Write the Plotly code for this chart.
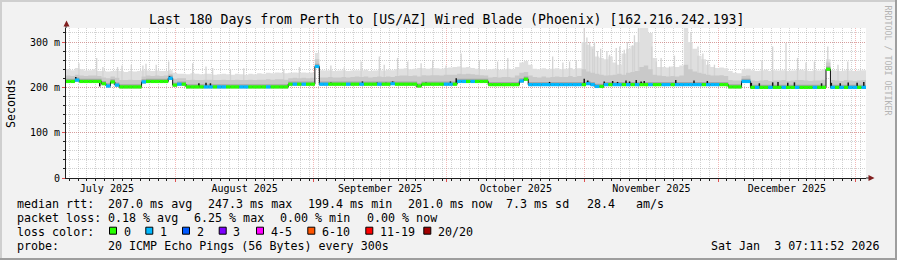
import plotly.graph_objects as go
import pandas as pd

# ---------------- data ----------------
START = "2025-07-07 07:11:52"
END = "2026-01-03 07:11:52"

# daily median rtt (ms)
median = [
    213, 213, 216, 213, 213, 213, 213, 213, 208, 203,
    212, 205, 201, 201, 201, 201, 201, 212, 213, 213,
    213, 213, 213, 220, 205, 207, 207, 201, 201, 201,
    201, 201, 201, 201, 201, 201, 201, 201, 201, 201,
    201, 201, 201, 201, 201, 201, 201, 201, 201, 201,
    207, 207, 207, 207, 207, 207, 246, 207, 207, 207,
    207, 207, 207, 207, 207, 207, 207, 207, 207, 207,
    207, 207, 207, 208, 207, 207, 207, 207, 207, 203,
    207, 207, 207, 207, 207, 207, 207, 207, 213, 213,
    213, 213, 213, 213, 213, 206, 206, 206, 206, 206,
    206, 206, 214, 218, 206, 206, 206, 206, 206, 206,
    206, 206, 206, 206, 206, 206, 206, 208, 206, 202,
    202, 206, 206, 206, 206, 206, 206, 206, 206, 206,
    206, 206, 206, 206, 206, 206, 206, 206, 206, 206,
    206, 206, 206, 206, 206, 206, 206, 206, 206, 201,
    201, 201, 213, 213, 200, 200, 200, 200, 200, 200,
    200, 200, 200, 200, 200, 200, 200, 200, 200, 200,
    200, 240, 200, 200, 200, 200, 200, 200, 200, 200,
]

# daily packet loss (pings lost of 20)
loss = [
    0, 0, 1, 0, 0, 0, 0, 0, 0, 1,
    0, 1, 0, 0, 0, 0, 0, 1, 0, 0,
    0, 0, 0, 1, 0, 1, 0, 0, 0, 0,
    0, 1, 1, 0, 1, 1, 0, 0, 0, 1,
    1, 0, 0, 0, 0, 1, 0, 0, 0, 0,
    0, 1, 0, 1, 0, 0, 1, 1, 1, 0,
    0, 0, 0, 1, 0, 0, 1, 0, 0, 0,
    1, 0, 0, 1, 0, 0, 0, 0, 0, 0,
    0, 0, 0, 0, 0, 1, 1, 0, 1, 1,
    0, 1, 0, 0, 0, 0, 0, 0, 0, 0,
    0, 0, 1, 0, 1, 1, 1, 1, 1, 1,
    1, 1, 1, 1, 1, 1, 0, 1, 1, 1,
    0, 1, 0, 1, 1, 0, 1, 0, 1, 0,
    0, 1, 0, 0, 1, 1, 0, 1, 1, 1,
    1, 1, 1, 0, 1, 1, 1, 0, 0, 0,
    0, 0, 1, 1, 0, 1, 0, 0, 1, 0,
    0, 1, 0, 0, 1, 0, 0, 0, 1, 0,
    0, 0, 1, 0, 1, 0, 1, 1, 0, 1,
]

# daily upper edge of the denser (mid grey) smoke (ms)
smoke_mid = [
    226, 225, 228, 226, 225, 226, 226, 225, 222, 220,
    224, 221, 216, 216, 217, 216, 216, 224, 226, 225,
    226, 225, 226, 230, 219, 220, 220, 216, 217, 216,
    216, 217, 217, 216, 216, 217, 216, 216, 217, 216,
    216, 217, 216, 217, 217, 218, 217, 218, 218, 217,
    220, 221, 220, 221, 220, 221, 262, 222, 222, 223,
    222, 222, 223, 222, 223, 224, 223, 224, 222, 223,
    224, 223, 224, 223, 225, 226, 226, 225, 226, 224,
    227, 226, 227, 227, 226, 228, 228, 228, 230, 229,
    230, 229, 228, 227, 226, 222, 223, 222, 223, 223,
    222, 226, 232, 234, 226, 223, 222, 224, 222, 223,
    224, 223, 223, 225, 223, 225, 240, 235, 232, 230,
    228, 226, 227, 228, 230, 228, 232, 234, 236, 245,
    248, 240, 228, 226, 225, 224, 225, 224, 226, 250,
    240, 235, 232, 230, 228, 226, 226, 227, 225, 216,
    215, 215, 225, 226, 215, 214, 215, 216, 214, 215,
    215, 216, 214, 215, 216, 216, 215, 214, 215, 215,
    217, 255, 216, 215, 214, 216, 215, 214, 215, 216,
]

# daily upper edge of the light smoke (ms)
smoke_top = [
    240, 238, 243, 240, 237, 238, 240, 236, 236, 235,
    236, 237, 236, 234, 236, 235, 236, 238, 237, 236,
    237, 236, 236, 238, 232, 230, 230, 229, 231, 230,
    229, 230, 230, 228, 229, 230, 229, 228, 230, 229,
    228, 230, 229, 231, 230, 232, 231, 233, 232, 231,
    232, 233, 232, 233, 232, 233, 276, 238, 237, 238,
    236, 237, 238, 236, 237, 238, 237, 239, 236, 237,
    238, 237, 239, 238, 240, 241, 242, 240, 241, 243,
    242, 241, 243, 242, 241, 243, 244, 245, 246, 244,
    245, 243, 241, 240, 239, 240, 241, 239, 240, 241,
    240, 245, 255, 258, 250, 241, 240, 242, 240, 241,
    242, 240, 241, 243, 240, 242, 300, 294, 290, 268,
    265, 262, 268, 255, 250, 275, 285, 292, 300, 340,
    340, 320, 265, 245, 245, 244, 246, 245, 248, 340,
    300, 285, 270, 262, 250, 245, 243, 244, 242, 236,
    232, 231, 240, 241, 238, 236, 237, 239, 236, 238,
    237, 238, 236, 237, 238, 239, 237, 236, 238, 237,
    240, 262, 238, 237, 236, 238, 237, 236, 237, 238,
]

# isolated smoke spikes: position (days from start) and top (ms)
spike_days = [
    2.9, 6.9, 8.3, 11.6, 12.6, 14.7, 17.3, 18.0, 20.3, 23.1,
    28.5, 31.5, 33.0, 37.0, 40.0, 49.0, 52.5, 59.6, 62.6, 66.4,
    70.5, 71.6, 74.6, 76.9, 79.9, 82.5, 85.5, 88.9, 93.0, 97.1,
    99.4, 109.5, 111.8, 113.3, 114.8, 116.6, 117.8, 118.5, 119.6, 122.3,
    123.8, 125.6, 127.5, 132.8, 135.8, 144.4, 145.9, 156.6, 159.0, 162.0,
    164.6, 166.5, 168.4, 171.4, 173.7, 175.9, 117.2, 118.9, 120.3, 121.7,
    124.6, 126.3, 127.9, 128.8, 131.8, 133.9, 136.9, 140.6, 142.2, 143.3,
]
spike_tops = [
    253, 265, 245, 245, 248, 250, 248, 252, 250, 257,
    253, 246, 243, 240, 242, 240, 245, 248, 244, 257,
    268, 250, 265, 257, 253, 260, 248, 275, 260, 257,
    265, 268, 255, 257, 260, 340, 300, 285, 280, 272,
    287, 283, 293, 257, 246, 260, 250, 260, 290, 298,
    265, 255, 257, 290, 250, 257, 310, 300, 285, 280,
    290, 300, 315, 330, 290, 265, 270, 320, 290, 275,
]

# short median excursions (black ticks): position (days) and value (ms)
tick_days = [
    2.2, 7.6, 23.3, 29.9, 31.5, 32.5, 59.6, 66.7, 70.0, 72.0,
    73.5, 79.0, 81.0, 86.5, 87.8, 108.8, 116.6, 117.4, 121.1, 123.0,
    124.1, 126.0, 126.8, 128.3, 129.4, 130.1, 137.2, 141.3, 144.3, 154.2,
    156.0, 159.0, 160.2, 162.4, 163.9, 170.0, 172.2, 174.2, 176.0, 178.0,
    179.5,
]
tick_vals = [
    223, 202, 225, 209, 210, 209, 211, 213, 211, 210,
    213, 201, 211, 213, 220, 212, 219, 215, 213, 214,
    212, 215, 213, 216, 213, 214, 216, 215, 214, 210,
    209, 211, 212, 210, 211, 209, 210, 209, 211, 210,
    212,
]

loss_labels = ["0", "1", "2", "3", "4-5", "6-10", "11-19", "20/20"]
loss_colors = ["#26ff00", "#00b8ff", "#0059ff", "#7e00ff", "#ff00ff", "#ff5500", "#ff0000", "#a10000"]

title = "Last 180 Days from Perth to [US/AZ] Wired Blade (Phoenix) [162.216.242.193]"
row_rtt = ["median rtt:", "207.0 ms avg", "247.3 ms max", "199.4 ms min", "201.0 ms now", "7.3 ms sd", "28.4", "am/s"]
row_loss = ["packet loss:", "0.18 % avg", "6.25 % max", "0.00 % min", "0.00 % now"]
probe_text = ["probe:", "20 ICMP Echo Pings (56 Bytes) every 300s"]
stamp = "Sat Jan\u00a0\u00a03 07:11:52 2026"

assert len(median) == len(loss) == len(smoke_mid) == len(smoke_top) == 180
assert len(spike_days) == len(spike_tops)
assert len(tick_days) == len(tick_vals)

# ---------------- geometry / style ----------------
W, H = 897, 260
L, T, PW, PH = 66, 28, 800, 150
MONO = "DejaVu Sans Mono"
BG = "#f2f2f2"


def px(x):
    return (x - L) / PW


def py(y):
    return (T + PH - y) / PH


t0 = pd.Timestamp(START)
edges = [t0 + pd.Timedelta(days=i) for i in range(len(median) + 1)]


def at(d):
    return t0 + pd.Timedelta(days=d)


def step(v):
    return list(v) + [v[-1]]


fig = go.Figure()
common = dict(mode="lines", hoverinfo="skip", showlegend=False)

lo = [m - 3 for m in median]
dark = [m + 6 for m in median]

# light smoke envelope
fig.add_trace(go.Scatter(x=edges, y=step(lo), line=dict(width=0, shape="hv"), **common))
fig.add_trace(go.Scatter(x=edges, y=step(smoke_top), line=dict(width=0, shape="hv"),
                         fill="tonexty", fillcolor="#dfdfdf", **common))

# smoke spikes
sx, sy = [], []
for d, t in zip(spike_days, spike_tops):
    sx += [at(d), at(d), None]
    sy += [median[int(d)], t, None]
fig.add_trace(go.Scatter(x=sx, y=sy, line=dict(width=1.3, color="#d3d3d3"), **common))

# denser smoke bands
for upper, colr in [(smoke_mid, "#c9c9c9"), (dark, "#a6a6a6")]:
    fig.add_trace(go.Scatter(x=edges, y=step(lo), line=dict(width=0, shape="hv"), **common))
    fig.add_trace(go.Scatter(x=edges, y=step(upper), line=dict(width=0, shape="hv"),
                             fill="tonexty", fillcolor=colr, **common))

# median step line (black)
fig.add_trace(go.Scatter(x=edges, y=step(median), line=dict(width=1, color="#101010", shape="hv"), **common))

# black excursions
bx, by = [], []
for d, v in zip(tick_days, tick_vals):
    bx += [at(d), at(d), None]
    by += [median[int(d)], v, None]
fig.add_trace(go.Scatter(x=bx, y=by, line=dict(width=1.5, color="#151515"), **common))

# loss coloured median band
for lv in sorted(set(loss)):
    cx, cy = [], []
    for i, (m, l) in enumerate(zip(median, loss)):
        if l == lv:
            cx += [edges[i], edges[i + 1], None]
            cy += [m, m, None]
    fig.add_trace(go.Scatter(x=cx, y=cy, line=dict(width=3.2, color=loss_colors[lv]), **common))

# ---------------- annotations ----------------
ann = []


def text(x, y, s, size=11.66, anchor="left", color="#000000", angle=0):
    ann.append(dict(x=px(x), y=py(y), xref="paper", yref="paper", text=s, showarrow=False,
                    xanchor=anchor, yanchor="middle", textangle=angle, borderpad=0,
                    font=dict(family=MONO, size=size, color=color)))


text(446.7, 19.4, title, size=13.2, anchor="center")
text(11, 103, "Seconds", angle=-90, anchor="center")
text(887.5, 60, "RRDTOOL / TOBI OETIKER", size=8.3, anchor="center", color="#b4b4b4", angle=90)

for s, x in zip(row_rtt, [16, 107.3, 207.3, 306.7, 406.7, 505, 586, 635]):
    text(x, 204.2, s)
for s, x in zip(row_loss, [16, 107.3, 193.3, 279.3, 365.7]):
    text(x, 218.2, s)
text(16, 232.2, "loss color:")
box_x = [109, 145.3, 182, 218.7, 256, 307.3, 365.3, 423.3]
shapes = []
for bxp, lab, colr in zip(box_x, loss_labels, loss_colors):
    shapes.append(dict(type="rect", xref="paper", yref="paper", x0=px(bxp + 0.5), x1=px(bxp + 7.5),
                       y0=py(227.2), y1=py(234.2), fillcolor=colr, line=dict(color="#000000", width=1)))
    text(bxp + 13.7, 232.2, lab)
text(16, 246.2, probe_text[0])
text(107.3, 246.2, probe_text[1])
text(880, 246.2, stamp, anchor="right")

# frame (3d shading)
for x0, x1, y0, y1, c in [(0, 897, 0, 2, "#cfcfcf"), (0, 2, 0, 260, "#cfcfcf"),
                          (0, 897, 258, 260, "#9e9e9e"), (895, 897, 0, 260, "#9e9e9e")]:
    shapes.append(dict(type="rect", xref="paper", yref="paper", x0=px(x0), x1=px(x1),
                       y0=py(y1), y1=py(y0), fillcolor=c, line=dict(width=0), layer="above"))

# axis extensions + arrows
AX = "#1f1f1f"
AR = "#801f1f"
shapes.append(dict(type="line", xref="paper", yref="paper", x0=0, x1=0, y0=1, y1=py(25.5),
                    line=dict(color=AX, width=1)))
shapes.append(dict(type="line", xref="paper", yref="paper", x0=1, x1=px(869.5), y0=0, y1=0,
                    line=dict(color=AX, width=1)))
shapes.append(dict(type="path", xref="paper", yref="paper",
                   path=f"M {px(63.5)},{py(26.5)} L {px(69.5)},{py(26.5)} L {px(66.5)},{py(20.5)} Z",
                   fillcolor=AR, line=dict(width=0)))
shapes.append(dict(type="path", xref="paper", yref="paper",
                   path=f"M {px(868.5)},{py(175)} L {px(868.5)},{py(181)} L {px(874.5)},{py(178)} Z",
                   fillcolor=AR, line=dict(width=0)))

MG = "rgba(222,79,79,0.40)"
GG = "rgba(143,143,143,0.40)"
tickfont = dict(family=MONO, size=10, color="#000000")

fig.update_layout(
    width=W, height=H, autosize=False,
    margin=dict(l=L, r=W - L - PW, t=T, b=H - T - PH, pad=0),
    paper_bgcolor=BG, plot_bgcolor="#ffffff",
    showlegend=False,
    annotations=ann, shapes=shapes,
    xaxis=dict(
        type="date", range=[START, END], fixedrange=True,
        showline=True, linecolor=AX, linewidth=1, zeroline=False,
        dtick="M1", tick0="2025-07-01", ticklabelmode="period", tickformat="%B %Y",
        tickfont=tickfont, ticks="outside", ticklen=3, tickcolor="#de4f4f",
        ticklabelstandoff=-2,
        showgrid=True, gridcolor=MG, griddash="1px,1px", gridwidth=1,
        minor=dict(dtick=2 * 86400000, tick0="2025-08-01", showgrid=True, gridcolor=GG,
                   griddash="1px,1px", ticks="outside", ticklen=2, tickcolor=AX),
    ),
    yaxis=dict(
        range=[0, 331], fixedrange=True,
        showline=True, linecolor=AX, linewidth=1, zeroline=False,
        tickvals=[0, 100, 200, 300], ticktext=["0", "100 m", "200 m", "300 m"],
        tickfont=tickfont, ticks="outside", ticklen=3, tickcolor="#de4f4f",
        showgrid=True, gridcolor=MG, griddash="1px,1px", gridwidth=1,
        minor=dict(dtick=20, showgrid=True, gridcolor=GG, griddash="1px,1px",
                   ticks="outside", ticklen=2, tickcolor=AX),
    ),
)

fig.write_html("out.html")
